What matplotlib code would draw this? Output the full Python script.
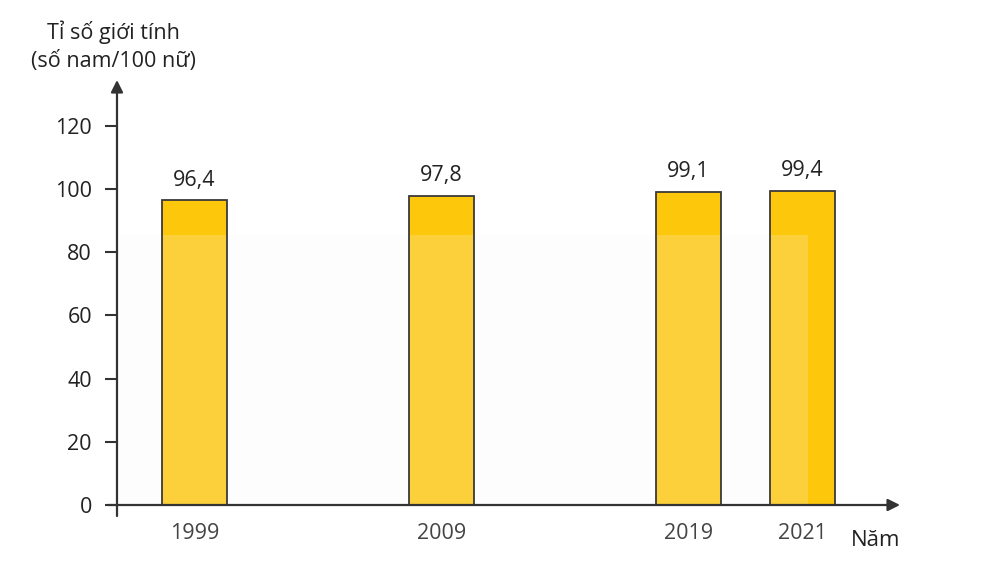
import matplotlib
matplotlib.use("Agg")
import matplotlib.pyplot as plt
from matplotlib.patches import Rectangle

plt.rcParams['font.family'] = ['Open Sans', 'DejaVu Sans']

# data
years = ['1999', '2009', '2019', '2021']
ratios = [96.4, 97.8, 99.1, 99.4]
labels = ['96,4', '97,8', '99,1', '99,4']
yticks = [0, 20, 40, 60, 80, 100, 120]

# layout (bar slots, not evenly spaced in the original)
xpos = [1, 2, 3, 3.46]
bar_w = 0.263
axis_col = '#333333'
text_col = '#222222'

fig = plt.figure(figsize=(9.82, 5.65), dpi=100)
ax = fig.add_axes([117/982, 60/565, (900-117)/982, (505-80)/565])
ax.set_xlim(0.686, 3.856)
ax.set_ylim(0, 134.5)

ax.bar(xpos, ratios, width=bar_w, color='#FDC70C', edgecolor='none', zorder=2)

# faint watermark block (lightens the lower part of the bars)
wm = Rectangle((120/982, 25/565), (808-120)/982, (330-25)/565,
               transform=fig.transFigure, facecolor='#f6f6f6',
               alpha=0.2, edgecolor='none', zorder=2.5)
ax.add_patch(wm)

# bar outlines on top of the watermark
ax.bar(xpos, ratios, width=bar_w, fill=False, edgecolor='#3a3a3a',
       linewidth=1.3, zorder=2.6)

for x, v, s in zip(xpos, ratios, labels):
    ax.text(x, v + 3, s, ha='center', va='bottom', fontsize=15.5, color=text_col)

for s in ax.spines.values():
    s.set_visible(False)

# axes drawn as arrows
ax.annotate('', xy=(3.856, 0), xytext=(0.65, 0),
            arrowprops=dict(arrowstyle='-|>', color=axis_col, lw=1.6,
                            mutation_scale=18, shrinkA=0, shrinkB=0),
            annotation_clip=False, zorder=3)
ax.annotate('', xy=(0.686, 134.5), xytext=(0.686, -3.5),
            arrowprops=dict(arrowstyle='-|>', color=axis_col, lw=1.6,
                            mutation_scale=18, shrinkA=0, shrinkB=0),
            annotation_clip=False, zorder=3)

ax.set_yticks(yticks)
ax.set_yticklabels([str(t) for t in yticks])
ax.tick_params(axis='y', length=9, width=1.5, color=axis_col, pad=9,
               labelsize=15.5, labelcolor=text_col)
ax.set_xticks(xpos)
ax.set_xticklabels(years)
ax.tick_params(axis='x', length=0, pad=13, labelsize=15.5, labelcolor='#444444')

fig.text(113/982, 1 - 32/565, 'Tỉ số giới tính', ha='center', va='center',
         fontsize=15.5, color=text_col)
fig.text(113/982, 1 - 61/565, '(số nam/100 nữ)', ha='center', va='center',
         fontsize=15.5, color=text_col)
fig.text(876/982, 1 - 540/565, 'Năm', ha='center', va='center',
         fontsize=16, color=text_col)

fig.savefig('out.png', dpi=100)
